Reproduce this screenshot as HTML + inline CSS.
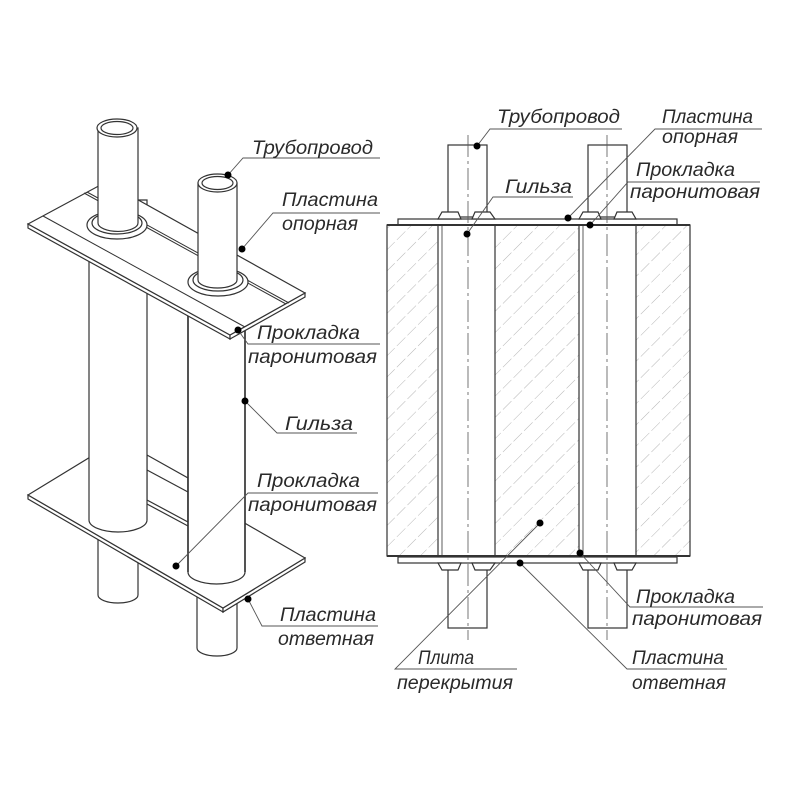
<!DOCTYPE html>
<html><head><meta charset="utf-8"><style>
html,body{margin:0;padding:0;background:#fff;}
svg{display:block;}
text{font-family:"Liberation Sans","DejaVu Sans",sans-serif;font-style:italic;font-size:19px;fill:#2a2a2a;}
</style></head><body>
<svg width="800" height="800" viewBox="0 0 800 800" xmlns="http://www.w3.org/2000/svg">
<defs>
<pattern id="h" patternUnits="userSpaceOnUse" width="15" height="15" patternTransform="rotate(45)">
<line x1="0" y1="0" x2="0" y2="15" stroke="#b5b5b5" stroke-width="1" stroke-dasharray="9 3"/>
</pattern>
</defs>
<g stroke="#333" stroke-width="1.2" fill="#fff">
<path d="M98,500 V595 A20,8 0 0 0 138,595 V500 Z"/>
<path d="M197,580 V648 A20,8 0 0 0 237,648 V580 Z"/>
<polygon points="28,495 223,608 223,612 28,499"/>
<polygon points="223,608 305,558 305,562 223,612"/>
<polygon points="28,495 110,445 305,558 223,608"/>
<polygon points="147,455 188,478 188,522 147,500" />
<line x1="147" y1="470" x2="188" y2="492"/>
<line x1="147" y1="504" x2="188" y2="526"/>
<path d="M89,200 V520 A29,12 0 0 0 147,520 V200 Z"/>
<path d="M188,290 V572 A28.5,12 0 0 0 245,572 V290 Z"/>
<line x1="188" y1="300" x2="188" y2="572" stroke-width="1.6"/>
<line x1="245" y1="300" x2="245" y2="572" stroke-width="1.6"/>
<line x1="147" y1="265" x2="188" y2="288"/>
<polygon points="28,224 230,335 230,339 28,228"/>
<polygon points="230,335 305,293 305,297 230,339"/>
<polygon points="28,224 106,182 305,293 230,335"/>
<line x1="43" y1="216" x2="245" y2="327" stroke-width="1"/>
<line x1="87" y1="192" x2="289" y2="303" stroke-width="1"/>
<line x1="84" y1="193" x2="286" y2="304" stroke-width="1"/>
<ellipse cx="117" cy="225" rx="30" ry="14"/>
<ellipse cx="117" cy="223" rx="25" ry="11"/>
<path d="M98,128 V223 A19,8 0 0 0 138,223 V128 Z"/>
<ellipse cx="117" cy="128" rx="20" ry="9"/>
<ellipse cx="117" cy="128" rx="16" ry="6.5"/>
<ellipse cx="218" cy="282" rx="30" ry="14"/>
<ellipse cx="218" cy="280" rx="25" ry="11"/>
<path d="M198,183 V280 A19.5,8 0 0 0 237,280 V183 Z"/>
<ellipse cx="217.5" cy="183" rx="19.5" ry="9"/>
<ellipse cx="217.5" cy="183" rx="15.5" ry="6.5"/>
</g>

<g stroke="#333" stroke-width="1.2" fill="#fff">
<rect x="448" y="145" width="39" height="72"/>
<rect x="588" y="145" width="39" height="72"/>
<rect x="448" y="562" width="39" height="66"/>
<rect x="588" y="562" width="39" height="66"/>
<rect x="387" y="225" width="303" height="331" fill="url(#h)"/>
<rect x="438" y="225" width="57" height="331"/>
<rect x="579" y="225" width="57" height="331"/>
<line x1="442" y1="225" x2="442" y2="556" stroke-width="0.8"/>
<line x1="583" y1="225" x2="583" y2="556" stroke-width="0.8"/>
<rect x="398" y="219" width="279" height="6"/>
<rect x="398" y="557" width="279" height="6"/>
<line x1="387" y1="225" x2="690" y2="225" stroke-width="2"/>
<line x1="387" y1="556" x2="690" y2="556" stroke-width="2"/>
<polygon points="438,219 442,212 458,212 461,219"/>
<polygon points="472,219 475,212 490,212 495,219"/>
<polygon points="579,219 583,212 598,212 601,219"/>
<polygon points="614,219 617,212 632,212 636,219"/>
<polygon points="438,563 442,570 458,570 461,563"/>
<polygon points="472,563 475,570 490,570 495,563"/>
<polygon points="579,563 583,570 598,570 601,563"/>
<polygon points="614,563 617,570 632,570 636,563"/>
</g>
<g stroke="#555" stroke-width="0.8" stroke-dasharray="22 4 3 4" fill="none">
<line x1="468" y1="135" x2="468" y2="640"/>
<line x1="607" y1="135" x2="607" y2="640"/>
</g>

<g stroke="#555" stroke-width="0.9" fill="none">
<polyline points="228,175 243,158 380,158"/>
<polyline points="242,249 273,213 380,213"/>
<polyline points="238,330 248,344 380,344"/>
<polyline points="245,401 277,433 357,433"/>
<polyline points="176,566 248,493 378,493"/>
<polyline points="248,599 262,626 378,626"/>
<polyline points="477,146 490,129 622,129"/>
<polyline points="568,218 655,129 762,129"/>
<polyline points="590,225 628,182 760,182"/>
<polyline points="467,234 493,197 573,197"/>
<polyline points="580,553 630,607 763,607"/>
<polyline points="520,563 627,669 727,669"/>
<polyline points="540,523 395,669 517,669"/>
</g>
<g fill="#000">
<circle cx="228" cy="175" r="3.5"/><circle cx="242" cy="249" r="3.5"/><circle cx="238" cy="330" r="3.5"/>
<circle cx="245" cy="401" r="3.5"/><circle cx="176" cy="566" r="3.5"/><circle cx="248" cy="599" r="3.5"/>
<circle cx="477" cy="146" r="3.5"/><circle cx="568" cy="218" r="3.5"/><circle cx="590" cy="225" r="3.5"/>
<circle cx="467" cy="234" r="3.5"/><circle cx="580" cy="553" r="3.5"/><circle cx="520" cy="563" r="3.5"/>
<circle cx="540" cy="523" r="3.5"/>
</g>

<g>
<text x="252" y="154" textLength="121" lengthAdjust="spacingAndGlyphs">Трубопровод</text>
<text x="282" y="206" textLength="96" lengthAdjust="spacingAndGlyphs">Пластина</text>
<text x="282" y="230" textLength="76" lengthAdjust="spacingAndGlyphs">опорная</text>
<text x="257" y="339" textLength="103" lengthAdjust="spacingAndGlyphs">Прокладка</text>
<text x="248" y="363" textLength="129" lengthAdjust="spacingAndGlyphs">паронитовая</text>
<text x="285" y="430" textLength="68" lengthAdjust="spacingAndGlyphs">Гильза</text>
<text x="257" y="487" textLength="103" lengthAdjust="spacingAndGlyphs">Прокладка</text>
<text x="248" y="511" textLength="129" lengthAdjust="spacingAndGlyphs">паронитовая</text>
<text x="280" y="621" textLength="96" lengthAdjust="spacingAndGlyphs">Пластина</text>
<text x="278" y="645" textLength="96" lengthAdjust="spacingAndGlyphs">ответная</text>

<text x="497" y="123" textLength="123" lengthAdjust="spacingAndGlyphs">Трубопровод</text>
<text x="662" y="123" textLength="91" lengthAdjust="spacingAndGlyphs">Пластина</text>
<text x="662" y="143" textLength="76" lengthAdjust="spacingAndGlyphs">опорная</text>
<text x="636" y="176" textLength="99" lengthAdjust="spacingAndGlyphs">Прокладка</text>
<text x="630" y="198" textLength="130" lengthAdjust="spacingAndGlyphs">паронитовая</text>
<text x="505" y="193" textLength="67" lengthAdjust="spacingAndGlyphs">Гильза</text>
<text x="636" y="603" textLength="99" lengthAdjust="spacingAndGlyphs">Прокладка</text>
<text x="632" y="625" textLength="130" lengthAdjust="spacingAndGlyphs">паронитовая</text>
<text x="632" y="664" textLength="92" lengthAdjust="spacingAndGlyphs">Пластина</text>
<text x="632" y="689" textLength="94" lengthAdjust="spacingAndGlyphs">ответная</text>
<text x="418" y="664" textLength="56" lengthAdjust="spacingAndGlyphs">Плита</text>
<text x="397" y="689" textLength="116" lengthAdjust="spacingAndGlyphs">перекрытия</text>
</g>
</svg>
</body></html>
